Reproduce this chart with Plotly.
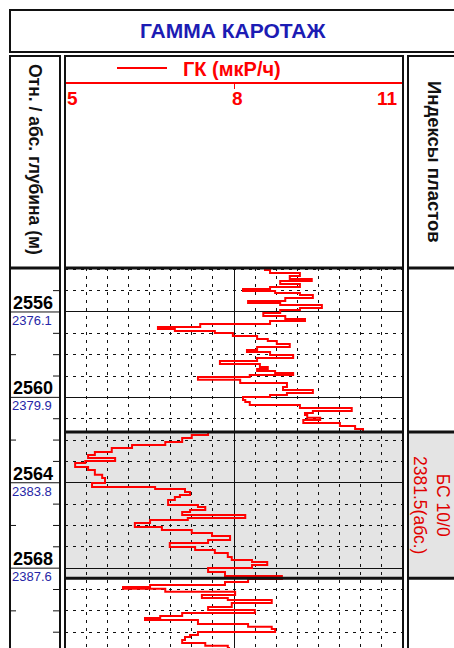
import plotly.graph_objects as go

# ---------------- data ----------------
DEPTH = [2553.94, 2554.03, 2554.17, 2554.31, 2554.45, 2554.55, 2554.69, 2554.83, 2554.92, 2555.02,
         2555.11, 2555.20, 2555.34, 2555.48, 2555.58, 2555.67, 2555.81, 2555.91, 2556.05, 2556.19,
         2556.33, 2556.42, 2556.56, 2556.70, 2556.80, 2556.89, 2556.98, 2557.12, 2557.26, 2557.36,
         2557.50, 2557.64, 2557.78, 2557.87, 2558.01, 2558.15, 2558.30, 2558.44, 2558.58, 2558.67,
         2558.76, 2558.86, 2558.95, 2559.04, 2559.18, 2559.33, 2559.51, 2559.65, 2559.79, 2559.89,
         2559.98, 2560.12, 2560.22, 2560.36, 2560.50, 2560.64, 2560.73, 2560.82, 2560.96, 2561.06,
         2561.20, 2561.34, 2561.48, 2561.62, 2561.76, 2561.90, 2562.09, 2562.23, 2562.37, 2562.56,
         2562.70, 2562.84, 2562.98, 2563.07, 2563.26, 2563.40, 2563.49, 2563.63, 2563.78, 2563.87,
         2564.01, 2564.20, 2564.29, 2564.43, 2564.57, 2564.67, 2564.81, 2564.90, 2565.04, 2565.13,
         2565.27, 2565.37, 2565.51, 2565.65, 2565.74, 2565.88, 2566.07, 2566.21, 2566.35, 2566.49,
         2566.68, 2566.82, 2567.01, 2567.15, 2567.29, 2567.48, 2567.62, 2567.71, 2567.85, 2567.99,
         2568.18, 2568.37, 2568.51, 2568.65, 2568.79, 2568.88, 2568.97, 2569.11, 2569.26, 2569.40,
         2569.49, 2569.63, 2569.82, 2569.96, 2570.10, 2570.24, 2570.33, 2570.43, 2570.61, 2570.75,
         2570.85, 2570.99, 2571.13, 2571.22, 2571.36, 2571.50, 2571.64, 2571.74]
GK = [8.55, 8.64, 9.17, 8.99, 9.38, 8.82, 9.17, 8.64, 8.16, 8.73,
      9.17, 9.40, 8.91, 8.25, 8.82, 9.56, 9.17, 8.82, 8.52, 8.91,
      9.26, 8.64, 7.40, 6.65, 6.95, 7.66, 7.98, 8.41, 8.60, 8.76,
      8.99, 8.41, 8.23, 8.64, 9.05, 8.41, 7.75, 8.46, 8.60, 8.41,
      8.73, 9.05, 8.28, 7.36, 8.11, 8.94, 8.87, 9.40, 8.94, 8.64,
      8.16, 8.20, 8.28, 9.17, 10.09, 9.40, 9.26, 9.30, 9.53, 9.23,
      9.88, 10.15, 10.29, 7.54, 7.25, 7.08, 6.78, 6.19, 5.83, 5.53,
      5.41, 5.89, 5.36, 5.18, 5.41, 5.53, 5.53, 5.66, 5.71, 5.71,
      5.48, 6.60, 7.13, 7.22, 7.04, 6.95, 6.83, 6.83, 7.36, 7.49,
      7.22, 7.08, 8.20, 7.18, 6.51, 6.24, 6.72, 7.25, 7.61, 7.93,
      7.54, 6.86, 7.31, 7.66, 7.89, 7.96, 8.32, 8.59, 8.32, 7.54,
      7.84, 8.85, 8.25, 7.84, 6.51, 6.03, 6.78, 8.02, 7.43, 7.89,
      8.67, 7.96, 7.54, 8.37, 7.08, 6.69, 6.42, 7.36, 8.25, 8.67,
      8.73, 7.36, 7.22, 7.13, 7.08, 7.49, 7.89, 7.93]

X_RANGE = [5, 11]
X_TICKS = [5, 8, 11]
X_TICK_TEXT = ["5", "8", "11"]
X_MINOR_STEP = 0.375
DEPTH_TOP = 2553.94
DEPTH_BOTTOM = 2571.74
MD_LABELS = [2556, 2560, 2564, 2568]
ABS_LABELS = ["2376.1", "2379.9", "2383.8", "2387.6"]
METER_TICKS = [2555, 2557, 2558, 2559, 2561, 2562, 2563, 2565, 2566, 2567, 2569, 2570, 2571]
ZONE_TOP = 2561.62
ZONE_BOTTOM = 2568.47
ZONE_NAME = "БС 10/0"
ZONE_ABS = "2381.5(абс.)"
TITLE = "ГАММА КАРОТАЖ"
CURVE_NAME = "ГК (мкР/ч)"
LEFT_HEADER = "Отн. / абс. глубина (м)"
RIGHT_HEADER = "Индексы пластов"

# ---------------- layout helpers ----------------
W, H = 454, 648
FONT = "Liberation Sans, Arial, sans-serif"
RED = "#ff0000"


def px(x):
    return x / W


def py(y):
    return 1 - y / H


fig = go.Figure()
fig.add_trace(go.Scatter(x=GK, y=DEPTH, mode="lines", line=dict(color=RED, width=2, shape="vh"),
                         showlegend=False, hoverinfo="skip"))

shapes = []
# column boxes
shapes.append(dict(type="rect", xref="paper", yref="paper", x0=px(10), x1=px(470), y0=py(10), y1=py(52),
                   line=dict(color="#111", width=2)))
for x0, x1 in [(10, 60), (65, 403), (408, 480)]:
    shapes.append(dict(type="rect", xref="paper", yref="paper", x0=px(x0), x1=px(x1), y0=py(56), y1=py(700),
                       line=dict(color="#111", width=2)))
    shapes.append(dict(type="line", xref="paper", yref="paper", x0=px(x0), x1=px(x1), y0=py(268), y1=py(268),
                       line=dict(color="#111", width=3)))
# shaded zone
shapes.append(dict(type="rect", xref="x", yref="y", x0=X_RANGE[0], x1=X_RANGE[1], y0=ZONE_TOP, y1=ZONE_BOTTOM,
                   fillcolor="#e4e4e4", line=dict(width=0), layer="below"))
shapes.append(dict(type="rect", xref="paper", yref="y", x0=px(408), x1=px(480), y0=ZONE_TOP, y1=ZONE_BOTTOM,
                   fillcolor="#e4e4e4", line=dict(width=0), layer="below"))
for d in [ZONE_TOP, ZONE_BOTTOM]:
    for x0, x1 in [(65, 403), (408, 480)]:
        shapes.append(dict(type="line", xref="paper", yref="y", x0=px(x0), x1=px(x1), y0=d, y1=d,
                           line=dict(color="#111", width=3)))
# depth lines in the left column
for d in MD_LABELS:
    shapes.append(dict(type="line", xref="paper", yref="y", x0=px(10), x1=px(60), y0=d, y1=d,
                       line=dict(color="#111", width=1)))
for d in METER_TICKS:
    shapes.append(dict(type="line", xref="paper", yref="y", x0=px(53), x1=px(60), y0=d, y1=d,
                       line=dict(color="#111", width=1)))
    if d % 2 == 0:
        shapes.append(dict(type="line", xref="paper", yref="y", x0=px(10), x1=px(16), y0=d, y1=d,
                           line=dict(color="#111", width=1)))
# legend sample
shapes.append(dict(type="line", xref="paper", yref="paper", x0=px(117), x1=px(167), y0=py(68), y1=py(68),
                   line=dict(color=RED, width=2)))

ann = []


def add_ann(**kw):
    kw.setdefault("showarrow", False)
    kw.setdefault("xanchor", "center")
    kw.setdefault("yanchor", "middle")
    ann.append(kw)


add_ann(x=px(233), y=py(31), xref="paper", yref="paper", text="<b>%s</b>" % TITLE,
        font=dict(family=FONT, size=21, color="#1c1cb4"))
add_ann(x=px(181), y=py(69), xref="paper", yref="paper", text="<b>%s</b>" % CURVE_NAME,
        xanchor="left", font=dict(family=FONT, size=20, color=RED))
anchors = ["left", "center", "right"]
for v, t, a in zip(X_TICKS, X_TICK_TEXT, anchors):
    add_ann(x=v, y=py(98), xref="x", yref="paper", text="<b>%s</b>" % t,
            xanchor=a, xshift={"left": 0, "center": 3, "right": -3}[a],
            font=dict(family=FONT, size=19, color=RED))
add_ann(x=px(35), y=py(159), xref="paper", yref="paper", text="<b>%s</b>" % LEFT_HEADER,
        textangle=90, font=dict(family=FONT, size=17.5, color="#111"))
add_ann(x=px(435), y=py(162), xref="paper", yref="paper", text="<b>%s</b>" % RIGHT_HEADER,
        textangle=90, font=dict(family=FONT, size=18.5, color="#111"))
for d, ab in zip(MD_LABELS, ABS_LABELS):
    add_ann(x=px(55), y=d, xref="paper", yref="y", text="<b>%d</b>" % d,
            xanchor="right", yanchor="bottom", yshift=-3, font=dict(family=FONT, size=18, color="#000"))
    add_ann(x=px(10), y=d, xref="paper", yref="y", text=ab,
            xanchor="left", yanchor="top", yshift=1, font=dict(family=FONT, size=13, color="#2626a6"))
add_ann(x=px(432), y=(ZONE_TOP + ZONE_BOTTOM) / 2, xref="paper", yref="y",
        text="%s<br>%s" % (ZONE_NAME, ZONE_ABS), textangle=90,
        font=dict(family=FONT, size=17.5, color="#e00000"))

fig.update_layout(
    width=W, height=H, margin=dict(l=0, r=0, t=0, b=0),
    paper_bgcolor="white", plot_bgcolor="white",
    shapes=shapes, annotations=ann,
    xaxis=dict(domain=[px(65), px(403)], range=X_RANGE, anchor="free", position=py(83), side="bottom",
               showline=True, linecolor=RED, linewidth=2, tickvals=X_TICKS, showticklabels=False,
               ticks="outside", ticklen=5, tickcolor=RED, tickwidth=1,
               showgrid=True, gridcolor="#111", gridwidth=1, zeroline=False,
               minor=dict(dtick=X_MINOR_STEP, tick0=X_RANGE[0], showgrid=True, gridcolor="#111",
                          griddash="3px,5px", gridwidth=1, ticks="")),
    yaxis=dict(domain=[0, py(268)], range=[DEPTH_BOTTOM, DEPTH_TOP], tickvals=MD_LABELS,
               showticklabels=False, ticks="", showgrid=True, gridcolor="#111", gridwidth=1, zeroline=False,
               minor=dict(dtick=1, tick0=2556, showgrid=True, gridcolor="#111", griddash="3px,5px",
                          gridwidth=1, ticks="")),
)

fig.write_html("out.html", config={"displayModeBar": False, "staticPlot": True},
               post_script="document.body.style.margin='0';document.body.style.overflow='hidden';")
